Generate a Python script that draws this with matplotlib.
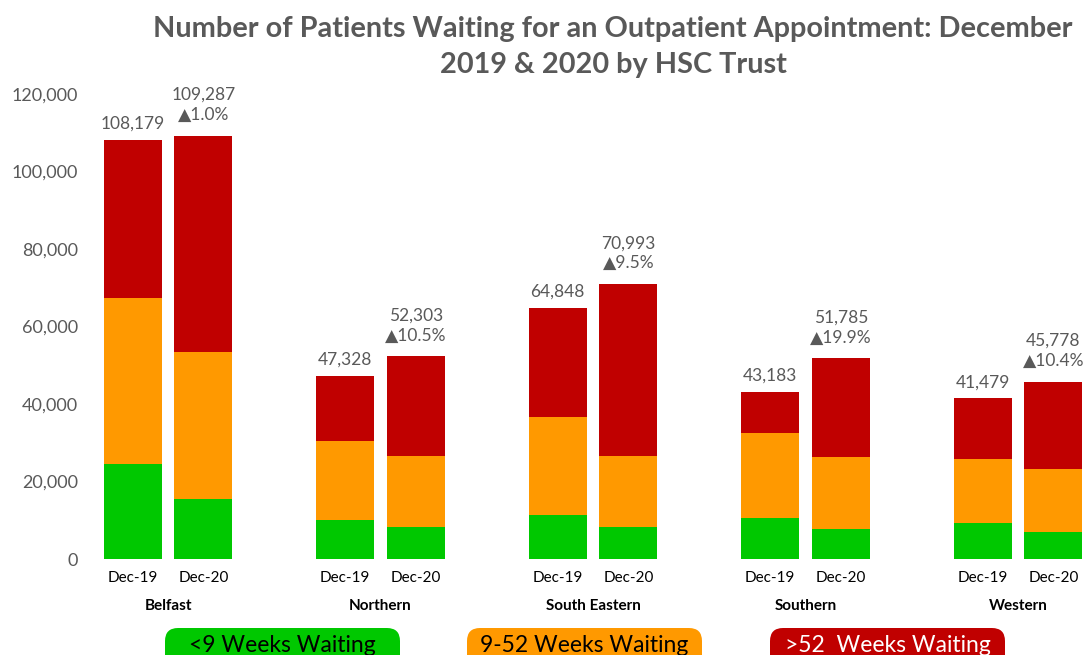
import matplotlib
matplotlib.use('Agg')
import matplotlib.pyplot as plt
from matplotlib.patches import FancyBboxPatch
from matplotlib.ticker import FuncFormatter
import numpy as np

trusts = ['Belfast', 'Northern', 'South Eastern', 'Southern', 'Western']
periods = ['Dec-19', 'Dec-20']

under9_dec19 = [24500, 10100, 11400, 10600, 9300]
under9_dec20 = [15500, 8300, 8300, 7700, 7000]
w9_52_dec19 = [42900, 20400, 25200, 21900, 16500]
w9_52_dec20 = [37900, 18300, 18300, 18600, 16200]
total_dec19 = [108179, 47328, 64848, 43183, 41479]
total_dec20 = [109287, 52303, 70993, 51785, 45778]

legend_labels = ['<9 Weeks Waiting', '9-52 Weeks Waiting', '>52  Weeks Waiting']
colors = ['#00C800', '#FF9900', '#C00000']
gray = '#595959'

plt.rcParams['font.family'] = ['Lato', 'DejaVu Sans']

W, H = 1086, 655
fig = plt.figure(figsize=(W / 100, H / 100), dpi=100)
ax = fig.add_axes([95 / W, (H - 559) / H, (W - 95) / W, (559 - 94) / H])

g = np.arange(len(trusts), dtype=float)
off = 0.167
bw = 0.273
xpos = {'Dec-19': g - off, 'Dec-20': g + off}
data = {
    'Dec-19': (np.array(under9_dec19), np.array(w9_52_dec19), np.array(total_dec19)),
    'Dec-20': (np.array(under9_dec20), np.array(w9_52_dec20), np.array(total_dec20)),
}

for p in periods:
    a, b, t = data[p]
    c = t - a - b
    ax.bar(xpos[p], a, bw, color=colors[0])
    ax.bar(xpos[p], b, bw, bottom=a, color=colors[1])
    ax.bar(xpos[p], c, bw, bottom=a + b, color=colors[2])

t19 = np.array(total_dec19)
t20 = np.array(total_dec20)
pct = (t20 / t19 - 1) * 100
for i in range(len(trusts)):
    ax.text(xpos['Dec-19'][i], t19[i] + 2000, f'{t19[i]:,}', ha='center', va='bottom',
            fontsize=12.5, color=gray)
    ax.text(xpos['Dec-20'][i], t20[i] + 3300, f'{t20[i]:,}\n\u25B2{pct[i]:.1f}%', ha='center',
            va='bottom', fontsize=12.5, color=gray, linespacing=1.3)

ax.set_ylim(0, 120000)
ax.set_xlim(-(168 - 95) / 212.5, (1086 - 168) / 212.5)
ax.set_yticks(np.arange(0, 120001, 20000))
ax.yaxis.set_major_formatter(FuncFormatter(lambda v, _: f'{int(v):,}'))
ax.tick_params(axis='y', length=0, pad=12, labelsize=13, labelcolor=gray)

xt = np.concatenate([xpos['Dec-19'], xpos['Dec-20']])
xl = ['Dec-19'] * len(trusts) + ['Dec-20'] * len(trusts)
ax.set_xticks(xt)
ax.set_xticklabels(xl)
ax.tick_params(axis='x', length=0, pad=9, labelsize=11, labelcolor='black')
for s in ax.spines.values():
    s.set_visible(False)

tr = ax.get_xaxis_transform()
for i, name in enumerate(trusts):
    ax.text(g[i], -0.1, name, transform=tr, ha='center', va='center',
            fontsize=11, fontweight='bold', color='black')

fig.text(613 / W, 1 - 47 / H,
         'Number of Patients Waiting for an Outpatient Appointment: December\n2019 & 2020 by HSC Trust',
         ha='center', va='center', fontsize=20.8, fontweight='bold', color=gray, linespacing=1.5)

boxes = [(165, 400), (467, 702), (770, 1005)]
txtc = ['black', 'black', 'white']
for (x0, x1), lab, col, tc in zip(boxes, legend_labels, colors, txtc):
    y0, y1 = 628, 668
    patch = FancyBboxPatch((x0 / W, 1 - y1 / H), (x1 - x0) / W, (y1 - y0) / H,
                           boxstyle='round,pad=0,rounding_size=0.012',
                           transform=fig.transFigure, facecolor=col, edgecolor='none',
                           mutation_aspect=W / H)
    fig.patches.append(patch)
    fig.text((x0 + x1) / 2 / W, 1 - 646 / H, lab, ha='center', va='center',
             fontsize=16.5, color=tc)

fig.savefig('out.png', dpi=100)
